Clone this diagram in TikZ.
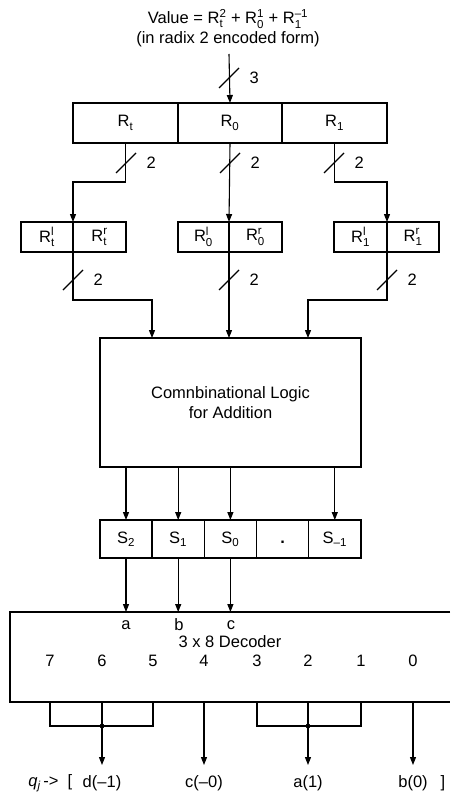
\documentclass[tikz,border=0pt]{standalone}
\usepackage{amsmath}
\usepackage{fontspec}
\setmainfont{Liberation Sans}
\usetikzlibrary{positioning,calc,arrows.meta}

\tikzstyle{regcell}=[rectangle,draw,line width=1.3pt,inner sep=0,outer sep=0]
\tikzstyle{every node}=[font=\fontsize{16.5}{19.5}\selectfont]
\newcommand{\reg}[2]{R$_{\text{#1}}^{\text{#2}}$}
\newcommand{\buswidth}[2]{
\draw (#1) ++(-10,10) -- ++(20,-20);
\node[anchor=west, inner sep=0] at ($(#1)+(20,0)$) {#2};
}

\begin{document}
\begin{tikzpicture}[x=1pt,y=-1pt,line width=1.1pt,>={Triangle[length=8pt,width=6pt]}]
\useasboundingbox (0,0) rectangle (450,805);

% input value
\node[align=center] (val) at (228,28) {Value = \reg{t}{2} + \reg{0}{1} + \reg{1}{--1}\\(in radix 2 encoded form)};
\coordinate (vin) at (229,54);

% top register
\node[regcell, minimum width=105pt, minimum height=40pt] (Rt) at (125.5,123) {\reg{t}{}};
\node[regcell, minimum width=104pt, minimum height=40pt, right=0pt of Rt] (R0) {\reg{0}{}};
\node[regcell, minimum width=105pt, minimum height=40pt, right=0pt of R0] (R1) {\reg{1}{}};

\draw[->] (vin) -- (R0.north);
\buswidth{229,78}{3}

% split registers
\node[regcell, minimum width=52pt, minimum height=30pt] (Rtl) at (47,237) {\reg{t}{l}};
\node[regcell, minimum width=53pt, minimum height=30pt, right=0pt of Rtl] (Rtr) {\reg{t}{r}};
\node[regcell, minimum width=51pt, minimum height=30pt] (R0l) at (203.5,237) {\reg{0}{l}};
\node[regcell, minimum width=53pt, minimum height=30pt, right=0pt of R0l] (R0r) {\reg{0}{r}};
\node[regcell, minimum width=53pt, minimum height=30pt] (R1l) at (360.5,237) {\reg{1}{l}};
\node[regcell, minimum width=52pt, minimum height=30pt, right=0pt of R1l] (R1r) {\reg{1}{r}};

\draw[->] (Rt.south) -- ++(0,39) -| (Rtl.north east);
\draw[->] (R0.south) -- (R0l.north east);
\draw[->] (R1.south) -- ++(0,39) -| (R1l.north east);
\buswidth{126,163}{2}
\buswidth{230,163}{2}
\buswidth{334,163}{2}

% adder
\node[regcell, minimum width=261pt, minimum height=129pt, align=center] (logic) at (230.5,402.5) {Comnbinational Logic\\for Addition};
\coordinate (in1) at (152,338);
\coordinate (in3) at (308,338);

\draw[->] (Rtl.south east) -- ++(0,48) -| (in1);
\draw[->] (R0l.south east) -- (R0l.south east |- logic.north);
\draw[->] (R1l.south east) -- ++(0,48) -| (in3);
\buswidth{73,280}{2}
\buswidth{229,280}{2}
\buswidth{387,280}{2}

% sum register
\node[regcell, minimum width=52.2pt, minimum height=38pt] (S2) at (126,539) {S$_{\text{2}}$};
\node[regcell, minimum width=52.2pt, minimum height=38pt, right=0pt of S2] (S1) {S$_{\text{1}}$};
\node[regcell, minimum width=52.2pt, minimum height=38pt, right=0pt of S1] (S0) {S$_{\text{0}}$};
\node[regcell, minimum width=52.2pt, minimum height=38pt, right=0pt of S0] (Sdot) {\vphantom{S$_{\text{0}}$}\textbf{.}};
\node[regcell, minimum width=52.2pt, minimum height=38pt, right=0pt of Sdot] (Sm1) {S$_{\text{--1}}$};

\foreach \s in {S2,S1,S0,Sm1}
  \draw[->] (\s.north |- logic.south) -- (\s.north);

% decoder
\coordinate (dectl) at (10,612);
\coordinate (decbl) at (10,702);
\coordinate (dectr) at (450,612);
\coordinate (decbr) at (450,702);
\draw[line width=1.3pt] (dectr) -- (dectl) -- (decbl) -- (decbr);

\node (ina) at (126,625) {a};
\node (inb) at (179,625) {b};
\node (inc) at (231,625) {c};
\draw[->] (S2.south) -- (S2.south |- dectl);
\draw[->] (S1.south) -- (S1.south |- dectl);
\draw[->] (S0.south) -- (S0.south |- dectl);
\node (dec) at (230,642) {3 x 8 Decoder};

\foreach \n/\x in {7/50,6/102,5/153,4/204,3/257,2/308,1/361,0/413}
  \node (o\n) at (\x,661) {\n};

% outputs
\coordinate (brk) at (0,726);
\coordinate (tip) at (0,765);
\coordinate (lab) at (0,783);
\draw (o7 |- decbl) -- (o7 |- brk) -- (o5 |- brk) -- (o5 |- decbl);
\draw (o3 |- decbl) -- (o3 |- brk) -- (o1 |- brk) -- (o1 |- decbl);
\fill (o6 |- brk) circle (2.4pt);
\fill (o2 |- brk) circle (2.4pt);
\foreach \n in {6,4,2,0}
  \draw[->] (o\n |- decbl) -- (o\n |- tip);

\node (qd) at (o6 |- lab) {d(--1)};
\node[left=0pt of qd] (qj) {\textit{q}$_{\textit{j}}$\,->\ \ [\,};
\node (qc) at (o4 |- lab) {c(--0)};
\node (qa) at (o2 |- lab) {a(1)};
\node (qb) at (o0 |- lab) {b(0)};
\node (qend) at (443,783) {]};
\end{tikzpicture}
\end{document}
